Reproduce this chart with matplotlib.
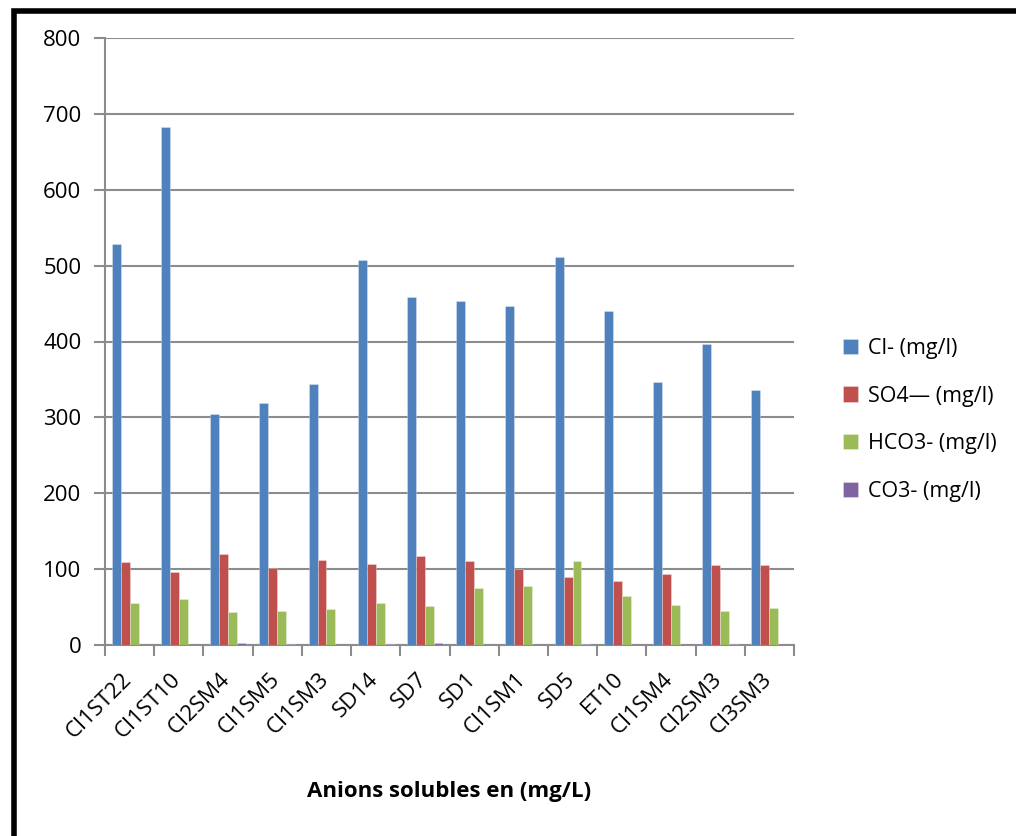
import matplotlib
matplotlib.use("Agg")
import matplotlib.pyplot as plt
import matplotlib.transforms as mtransforms
import numpy as np
from matplotlib.patches import Rectangle
from matplotlib.ticker import FixedLocator, NullFormatter

categories = ["CI1ST22", "CI1ST10", "CI2SM4", "CI1SM5", "CI1SM3", "SD14", "SD7",
              "SD1", "CI1SM1", "SD5", "ET10", "CI1SM4", "CI2SM3", "CI3SM3"]
cl = [529, 683, 305, 319, 344, 507, 459, 454, 447, 511, 440, 347, 397, 336]
so4 = [110, 96, 120, 102, 112, 107, 117, 111, 100, 89, 84, 93, 105, 106]
hco3 = [55, 61, 44, 45, 48, 55, 51, 75, 78, 111, 65, 53, 45, 49]
co3 = [0, 0.5, 2, 1.5, 0, 1.5, 2.5, 0, 0.5, 1.5, 0, 0, 1.5, 0]

series = [("Cl- (mg/l)", cl, "#4F81BD"),
          ("SO4\u2014 (mg/l)", so4, "#C0504D"),
          ("HCO3- (mg/l)", hco3, "#9BBB59"),
          ("CO3- (mg/l)", co3, "#8064A2")]

plt.rcParams['font.family'] = ['Open Sans', 'DejaVu Sans']

W, H = 1016, 836
fig = plt.figure(figsize=(W / 100, H / 100), dpi=100)
ax = fig.add_axes([105 / W, 1 - 645 / H, (794 - 105) / W, (645 - 38) / H])

# outer frame (left and top thick black)
fig.patches.append(Rectangle((14 / W, -0.1), 1.2, (1 - 11 / H) + 0.1, transform=fig.transFigure,
                             fill=False, edgecolor="black", linewidth=4, zorder=10))

x = np.arange(len(categories))
w = 1 / 5.5
offsets = [-1.5 * w, -0.5 * w, 0.5 * w, 1.5 * w]
for (name, vals, col), off in zip(series, offsets):
    ax.bar(x + off, vals, width=w, color=col, label=name, zorder=3,
           edgecolor=(1, 1, 1, 0.35), linewidth=0.6)

ax.set_xlim(-0.5, len(categories) - 0.5)
ax.set_ylim(0, 800)
ax.set_yticks(np.arange(0, 801, 100))
ax.yaxis.grid(True, color="#8c8c8c", linewidth=1.5, zorder=0)
ax.set_axisbelow(True)

for s in ["top", "right"]:
    ax.spines[s].set_visible(False)
for s in ["left", "bottom"]:
    ax.spines[s].set_color("#8c8c8c")
    ax.spines[s].set_linewidth(1.5)

ax.tick_params(axis="y", length=8, width=1.5, color="#8c8c8c", labelsize=16, pad=9)

# category labels (rotated), boundaries as tick marks
ax.set_xticks(x)
ax.set_xticklabels([])
ax.tick_params(axis="x", which="major", length=0)
ax.xaxis.set_minor_locator(FixedLocator(np.arange(-0.5, len(categories), 1)))
ax.xaxis.set_minor_formatter(NullFormatter())
ax.tick_params(axis="x", which="minor", length=8, width=1.5, color="#8c8c8c")

trans = mtransforms.blended_transform_factory(ax.transData, ax.transAxes) + \
    mtransforms.ScaledTranslation(-1 / 100, -31 / 100, fig.dpi_scale_trans)
for i, c in enumerate(categories):
    ax.text(i, 0, c, transform=trans, rotation=45, ha="right", va="center",
            rotation_mode="anchor", fontsize=16, clip_on=False)

fig.text(449 / W, 1 - 792 / H, "Anions solubles en (mg/L)", fontsize=16,
         fontweight="bold", ha="center", va="center")

leg = fig.legend(loc="center left", bbox_to_anchor=(824 / W, 1 - 420 / H), frameon=False,
                 fontsize=15.5, handlelength=0.7, handleheight=0.7, handletextpad=0.45,
                 labelspacing=1.25)

fig.savefig("out.png", dpi=100)
